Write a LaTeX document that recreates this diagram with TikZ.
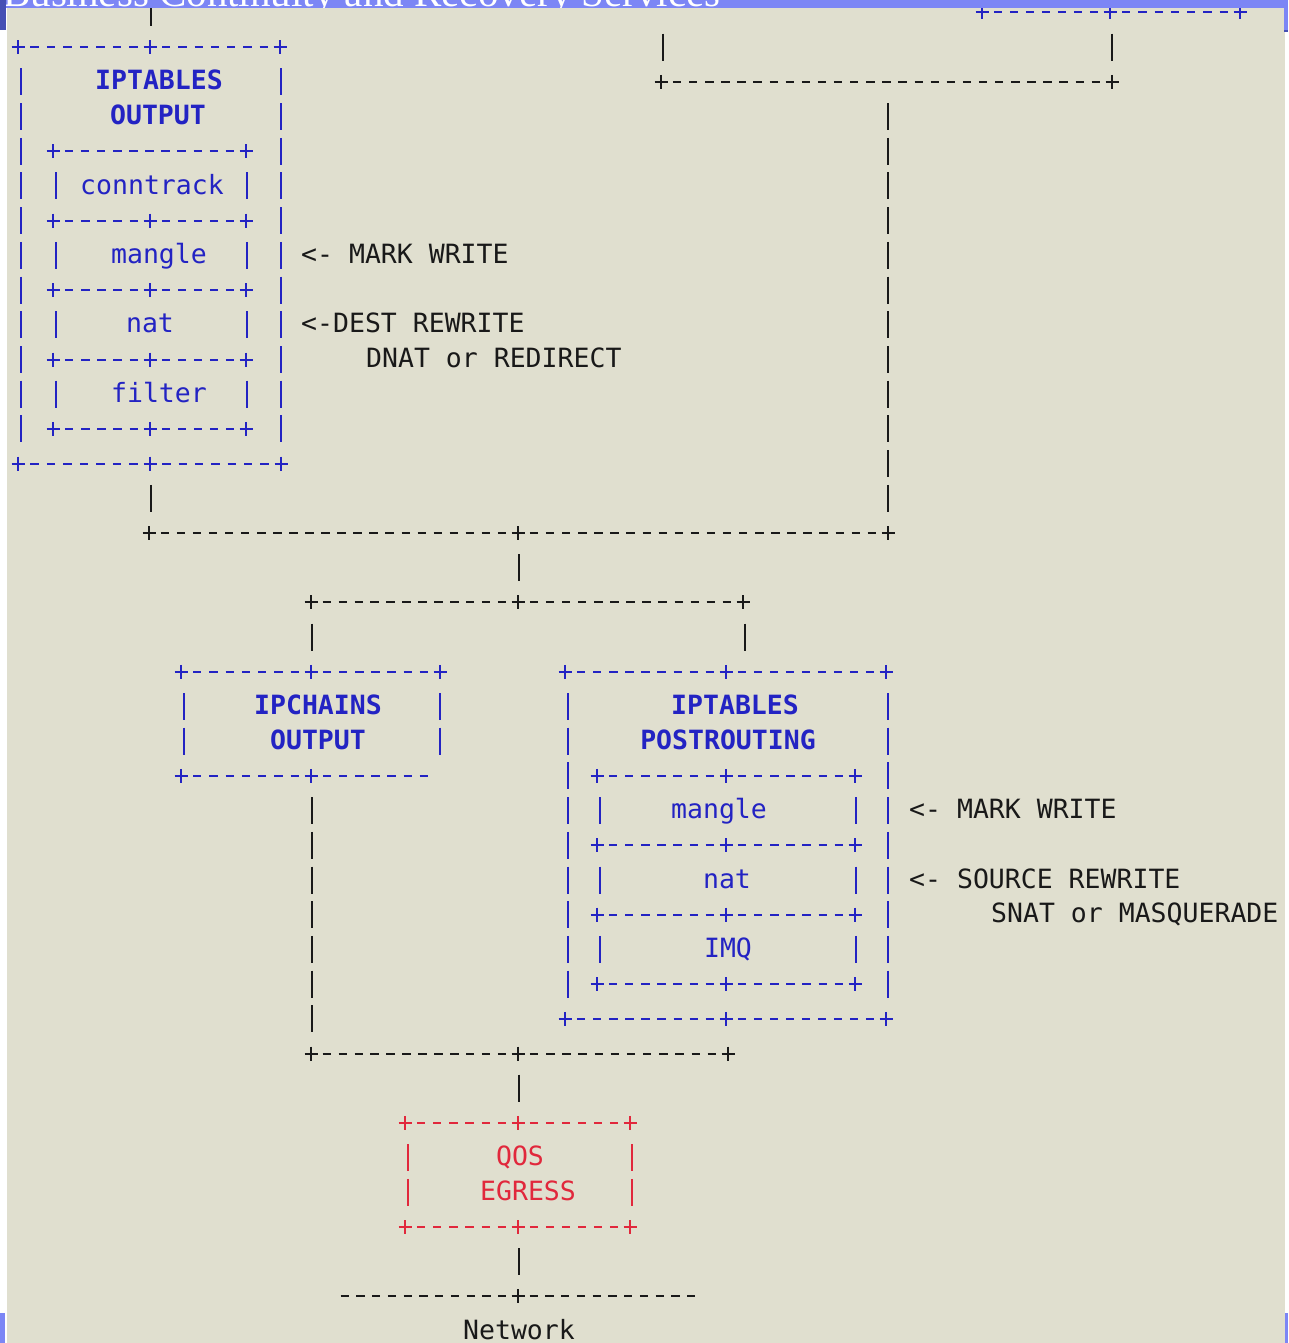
\documentclass[tikz,border=0pt]{standalone}
\usepackage{fontspec}
\newfontfamily\ascfont{DejaVu Sans Mono}
\newfontfamily\banfont{Liberation Serif}
\definecolor{bgc}{RGB}{224,223,207}
\definecolor{ban}{RGB}{124,134,245}
\definecolor{bandk}{RGB}{70,80,180}
\definecolor{asblue}{RGB}{35,35,195}
\definecolor{asred}{RGB}{225,40,60}
\definecolor{asblack}{RGB}{25,25,25}
\newcommand\ry[1]{(12.5+34.7*(#1))}
% dashes strictly between x1 and x2 on a row
\newcommand\asciiH[4]{%
  \pgfmathtruncatemacro\ahN{round((#2-#1)/16.4)}%
  \pgfmathsetmacro\ahC{(#2-#1)/\ahN}%
  \pgfmathtruncatemacro\ahM{\ahN-1}%
  \pgfmathsetmacro\ahY{12.5+34.7*(#3)}%
  \foreach \ahK in {1,...,\ahM}{\draw[#4,stroke] ({#1+\ahK*\ahC-4.2},\ahY) -- ++(8.4,0);}%
}
% a plus sign
\newcommand\asciiP[3]{%
  \pgfmathsetmacro\apY{12.5+34.7*(#2)}%
  \draw[#3,stroke] ({#1-6.5},\apY) -- ({#1+6.5},\apY) ({#1},{\apY-7}) -- ({#1},{\apY+7});%
}
% a row of pluses joined by dashes
\newcommand\asciiRow[3]{%
  \foreach \arX [remember=\arX as \arP (initially -1)] in {#3}{%
    \asciiP{\arX}{#2}{#1}%
    \ifdim\arP pt>0pt \asciiH{\arP}{\arX}{#2}{#1}\fi
  }%
}
\begin{document}
\begin{tikzpicture}[x=1pt,y=-1pt,
  stroke/.style={line width=2pt},
  vpipe/.style={line width=2pt, dash pattern=on 27pt off 7.7pt, shorten <=21.2pt, shorten >=21.2pt},
  lbl/.style={font=\ascfont\fontsize{26.5}{30}\selectfont, inner sep=0pt, anchor=base},
  ttl/.style={lbl, font=\ascfont\bfseries\fontsize{26.5}{30}\selectfont, text=asblue},
  cell/.style={lbl, text=asblue},
  note/.style={lbl, anchor=base west, text=asblack},
  qos/.style={lbl, text=asred}]
\useasboundingbox (0,0) rectangle (1288,1343);
\fill[white] (0,0) rectangle (1288,1343);
\fill[bgc] (7,8) rectangle (1285,1343);

% ---- connector coordinates
\coordinate (in1) at (151,{\ry{-1}});
\coordinate (b1t) at (151,{\ry{1}});
\coordinate (b1b) at (151,{\ry{13}});
\coordinate (j1l) at (151,{\ry{15}});
\coordinate (j1m) at (519,{\ry{15}});
\coordinate (j1r) at (888,{\ry{15}});
\coordinate (trb) at (1112,{\ry{0}});
\coordinate (j2r) at (1112,{\ry{2}});
\coordinate (in2) at (663,{\ry{0}});
\coordinate (j2l) at (663,{\ry{2}});
\coordinate (j2m) at (888,{\ry{2}});
\coordinate (j3m) at (519,{\ry{17}});
\coordinate (j3l) at (312,{\ry{17}});
\coordinate (j3r) at (745,{\ry{17}});
\coordinate (ict) at (312,{\ry{19}});
\coordinate (ptt) at (745,{\ry{19}});
\coordinate (icb) at (312,{\ry{22}});
\coordinate (j4l) at (312,{\ry{30}});
\coordinate (j4m) at (519,{\ry{30}});
\coordinate (qt) at (519,{\ry{32}});
\coordinate (qb) at (519,{\ry{35}});
\coordinate (nw) at (519,{\ry{37}});

% ---- connectors
\draw[asblack,vpipe] (in1) -- (b1t);
\draw[asblack,vpipe] (b1b) -- (j1l);
\draw[asblack,vpipe] (trb) -- (j2r);
\draw[asblack,vpipe] (in2) -- (j2l);
\draw[asblack,vpipe] (j2m) -- (j1r);
\draw[asblack,vpipe] (j1m) -- (j3m);
\draw[asblack,vpipe] (j3l) -- (ict);
\draw[asblack,vpipe] (j3r) -- (ptt);
\draw[asblack,vpipe] (icb) -- (j4l);
\draw[asblack,vpipe] (j4m) -- (qt);
\draw[asblack,vpipe] (qb) -- (nw);

% ---- junction lines
\asciiRow{asblack}{2}{661,1112}
\asciiRow{asblack}{15}{149,518,888}
\asciiRow{asblack}{17}{311,518,743}
\asciiRow{asblack}{30}{311,518,728}
\asciiP{518}{37}{asblack}
\asciiH{329}{518}{37}{asblack}
\asciiH{518}{707}{37}{asblack}

% ---- top right box (partly hidden)
\asciiRow{asblue}{0}{982,1110,1240}

% ---- IPTABLES OUTPUT
\asciiRow{asblue}{1}{18,150,280}
\asciiRow{asblue}{13}{18,150,281}
\draw[asblue,vpipe] (21,{\ry{1}}) -- (21,{\ry{13}});
\draw[asblue,vpipe] (281,{\ry{1}}) -- (281,{\ry{13}});
\asciiRow{asblue}{4}{53,246}
\foreach \r in {6,8,10,12}{\asciiRow{asblue}{\r}{53,150,246}}
\foreach \r in {4,6,8,10}{
  \draw[asblue,vpipe] (56,{\ry{\r}}) -- (56,{\ry{\r+2}});
  \draw[asblue,vpipe] (247,{\ry{\r}}) -- (247,{\ry{\r+2}});
}
\node[ttl] (o1) at (159,{\ry{2}+8}) {IPTABLES};
\node[ttl] (o2) at (158,{\ry{3}+8}) {OUTPUT};
\node[cell] (o3) at (152,{\ry{5}+8}) {conntrack};
\node[cell] (o4) at (159,{\ry{7}+8}) {mangle};
\node[cell] (o5) at (150,{\ry{9}+8}) {nat};
\node[cell] (o6) at (159,{\ry{11}+8}) {filter};
\node[note] (n1) at (301,{\ry{7}+8}) {<- MARK WRITE};
\node[note] (n2) at (301,{\ry{9}+8}) {<-DEST REWRITE};
\node[note] (n3) at (366,{\ry{10}+8}) {DNAT or REDIRECT};

% ---- IPCHAINS OUTPUT
\asciiRow{asblue}{19}{181,311,440}
\asciiP{181}{22}{asblue}
\asciiP{311}{22}{asblue}
\asciiH{181}{311}{22}{asblue}
\asciiH{311}{440}{22}{asblue}
\draw[asblue,vpipe] (184,{\ry{19}}) -- (184,{\ry{22}});
\draw[asblue,vpipe] (440,{\ry{19}}) -- (440,{\ry{22}});
\node[ttl] (c1) at (318,{\ry{20}+8}) {IPCHAINS};
\node[ttl] (c2) at (318,{\ry{21}+8}) {OUTPUT};

% ---- IPTABLES POSTROUTING
\asciiRow{asblue}{19}{565,726,886}
\asciiRow{asblue}{29}{565,726,886}
\draw[asblue,vpipe] (568,{\ry{19}}) -- (568,{\ry{29}});
\draw[asblue,vpipe] (888,{\ry{19}}) -- (888,{\ry{29}});
\foreach \r in {22,24,26,28}{\asciiRow{asblue}{\r}{597,726,855}}
\foreach \r in {22,24,26}{
  \draw[asblue,vpipe] (600,{\ry{\r}}) -- (600,{\ry{\r+2}});
  \draw[asblue,vpipe] (856,{\ry{\r}}) -- (856,{\ry{\r+2}});
}
\node[ttl] (p1) at (735,{\ry{20}+8}) {IPTABLES};
\node[ttl] (p2) at (728,{\ry{21}+8}) {POSTROUTING};
\node[cell] (p3) at (719,{\ry{23}+8}) {mangle};
\node[cell] (p4) at (727,{\ry{25}+8}) {nat};
\node[cell] (p5) at (728,{\ry{27}+8}) {IMQ};
\node[note] (n4) at (909,{\ry{23}+8}) {<- MARK WRITE};
\node[note] (n5) at (909,{\ry{25}+8}) {<- SOURCE REWRITE};
\node[note] (n6) at (991,{\ry{26}+8}) {SNAT or MASQUERADE};

% ---- QOS EGRESS
\asciiRow{asred}{32}{405,518,630}
\asciiRow{asred}{35}{405,518,630}
\draw[asred,vpipe] (408,{\ry{32}}) -- (408,{\ry{35}});
\draw[asred,vpipe] (632,{\ry{32}}) -- (632,{\ry{35}});
\node[qos] (q1) at (520,{\ry{33}+8}) {QOS};
\node[qos] (q2) at (528,{\ry{34}+8}) {EGRESS};

\node[lbl,text=asblack] (net) at (519,{\ry{38}+8}) {Network};

% ---- banner and frame bits
\begin{scope}
  \clip (0,0) rectangle (1288,8);
  \fill[ban] (0,0) rectangle (1288,8);
  \node[font=\banfont\fontsize{41}{45}\selectfont, text=white, anchor=base west, inner sep=0pt] (banner) at (3,6.5) {Business Continuity and Recovery Services};
\end{scope}
\fill[bandk] (0,0) rectangle (6,30);
\fill[ban] (1284,0) rectangle (1288,31);
\fill[bandk] (1284,30) rectangle (1288,32);
\fill[ban] (0,1313) rectangle (5,1343);
\fill[ban] (1285,1313) rectangle (1288,1343);
\end{tikzpicture}
\end{document}
